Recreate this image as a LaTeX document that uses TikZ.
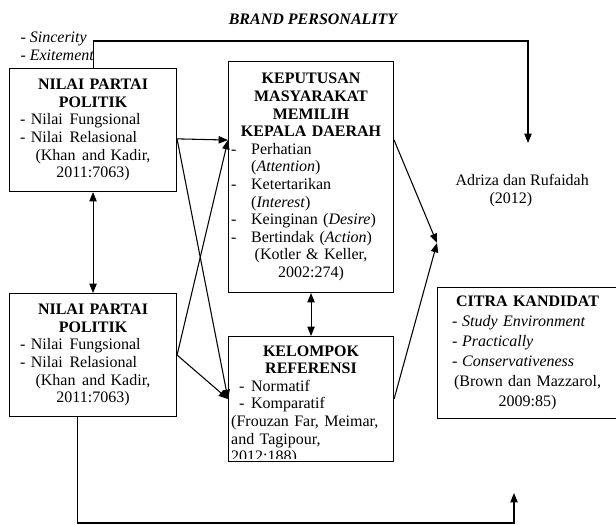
\documentclass[tikz,border=0pt]{standalone}
\usepackage{fontspec}                 % polices systeme
\setmainfont{Liberation Serif}        % metrique de Times
\usepackage{tikz}
\usetikzlibrary{calc,                 % calculs de coordonnees entre $ $
           arrows.meta}               % pointes de fleches
\setlength{\parindent}{0pt}
\newcommand{\butir}[1][15pt]{\makebox[#1][l]{-}}

\begin{document}
\begin{tikzpicture}[x=0.75pt,y=-0.75pt,line width=0.8pt,
  >={Triangle[length=7pt,width=5.5pt]},
  kotak/.style={draw,anchor=north west,inner xsep=2pt,inner ysep=0pt,align=left,
    font=\fontsize{12}{13.2}\selectfont},
  teks/.style={inner sep=0pt,font=\fontsize{12}{13.5}\selectfont}]
\useasboundingbox (0,0) rectangle (616,524);
\node[teks,font=\fontsize{12}{13.5}\selectfont\bfseries\itshape] (judul) at (313,19) {BRAND PERSONALITY};
\node[teks,anchor=north west,align=left] (dimensi) at (20,31) {-\ \textit{Sincerity}\\-\ \textit{Exitement}};
\node[teks,anchor=west,align=left] (adriza) at (455,191) {Adriza dan Rufaidah\\\hspace*{25.5pt}(2012)};
\node[kotak,text width=121.25pt,minimum height=92.25pt] (nilai1) at (9,68) {%
{\centering\bfseries NILAI PARTAI\\POLITIK\par}
\hspace*{6pt}- Nilai\hspace{5pt}Fungsional\\
\hspace*{6pt}- Nilai\hspace{5pt}Relasional\par
{\centering (Khan\hspace{5pt}and Kadir,\\2011:7063)\par}};
\node[kotak,text width=121.25pt,minimum height=92.25pt] (nilai2) at (9,293) {%
{\centering\bfseries NILAI PARTAI\\POLITIK\par}
\hspace*{6pt}- Nilai\hspace{5pt}Fungsional\\
\hspace*{6pt}- Nilai\hspace{5pt}Relasional\par
{\centering (Khan\hspace{5pt}and Kadir,\\2011:7063)\par}};
\node[kotak,text width=119.75pt,minimum height=173.25pt] (keputusan) at (228,61) {%
{\centering\bfseries KEPUTUSAN\\MASYARAKAT\\MEMILIH\\KEPALA DAERAH\par}
\butir Perhatian\\
\hspace*{15pt}(\textit{Attention})\\
\butir Ketertarikan\\
\hspace*{15pt}(\textit{Interest})\\
\butir Keinginan (\textit{Desire})\\
\butir Bertindak (\textit{Action})\par
{\centering (Kotler \& Keller,\\2002:274)\par}};
\node[kotak,text width=119.75pt,minimum height=93.75pt] (kelompok) at (228,336) {};
\begin{scope}
\clip ([yshift=3pt]kelompok.south west) rectangle (kelompok.north east);
\node[kotak,draw=none,text width=119.75pt] (isikelompok) at (228,345) {%
{\centering\bfseries KELOMPOK\\REFERENSI\par}
\hspace*{6pt}\butir[9pt]Normatif\\
\hspace*{6pt}\butir[9pt]Komparatif\\
(Frouzan Far, Meimar,\\
and Tagipour,\\
2012:188)};
\end{scope}
\node[kotak,text width=131pt,minimum height=98.25pt,
  font=\fontsize{12}{15}\selectfont] (citra) at (437,287) {%
{\centering\bfseries CITRA KANDIDAT\par}
\hspace*{9pt}\butir[7.5pt]\textit{Study Environment}\\
\hspace*{9pt}\butir[7.5pt]\textit{Practically}\\
\hspace*{9pt}\butir[7.5pt]\textit{Conservativeness}\par
{\centering (Brown dan Mazzarol,\\2009:85)\par}};
\coordinate (ujung1) at (528,143);
\coordinate (ujung2) at (514,493);
\coordinate (temu) at (437,243);
\coordinate (pangkal) at ($(nilai2.south west)!0.41!(nilai2.south east)$);
\draw[->] (nilai1.north) -- (nilai1.north |- 0,41) -| (ujung1);
\draw[->] (pangkal) -- (pangkal |- 0,523) -| (ujung2);
\draw[<->] (nilai1) -- (nilai2);
\draw[<->] (keputusan) -- (kelompok);
\draw[->] (nilai1.-6.5) -- (keputusan.156);
\draw[->] (nilai1.-6.5) -- (kelompok.west);
\draw[->] (nilai2.east) -- (keputusan.156);
\draw[->] (nilai2.east) -- (kelompok.west);
\draw[->] (keputusan.24) -- (temu);
\draw[->] (kelompok.east) -- (temu);
\end{tikzpicture}
\end{document}
